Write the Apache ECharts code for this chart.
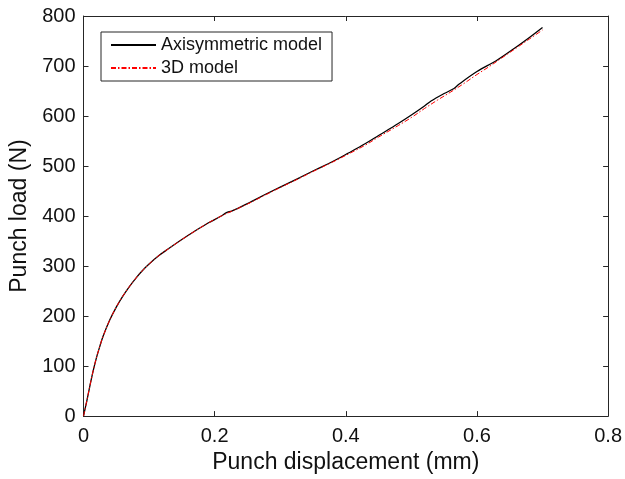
<!DOCTYPE html>
<html>
<head>
    <meta charset="utf-8">
    <title>Punch load</title>
    <script src="https://cdn.jsdelivr.net/npm/echarts@6/dist/echarts.min.js"></script>
    <style>
        body { margin: 0; background: #fff; }
        #main { width: 625px; height: 479px; }
    </style>
</head>
<body>
    <div id="main"></div>
    <script type="text/javascript">
        // displacement (mm) / load (N)
        var axiDisp = [0, 0.005, 0.010, 0.015, 0.020, 0.025, 0.030, 0.040, 0.050, 0.060, 0.070, 0.080, 0.090, 0.100, 0.115, 0.130, 0.150, 0.170, 0.190, 0.210, 0.218, 0.226, 0.250, 0.280, 0.300, 0.330, 0.353, 0.380, 0.404, 0.430, 0.450, 0.480, 0.500, 0.520, 0.530, 0.550, 0.565, 0.573, 0.600, 0.631, 0.660, 0.680, 0.700];
        var axiLoad = [0, 30, 62, 92, 118, 140, 160, 192, 218, 240, 259, 276, 291, 304, 321, 335, 353, 370, 386, 400, 407, 410, 425, 445, 458, 477, 492, 509, 526, 545, 561, 585, 602, 620, 630, 645, 655, 664, 689, 712, 738, 757, 777];

        var d3Disp = [0, 0.005, 0.010, 0.015, 0.020, 0.025, 0.030, 0.040, 0.050, 0.060, 0.070, 0.080, 0.090, 0.100, 0.115, 0.130, 0.150, 0.170, 0.190, 0.210, 0.230, 0.250, 0.280, 0.300, 0.330, 0.353, 0.380, 0.404, 0.430, 0.450, 0.480, 0.500, 0.520, 0.540, 0.560, 0.580, 0.600, 0.620, 0.640, 0.660, 0.680, 0.700];
        var d3Load = [0, 30, 62, 92, 118, 140, 160, 192, 218, 240, 259, 276, 291, 304, 321, 335, 353, 370, 386, 400, 412, 424, 444, 457, 476, 491, 508, 524, 542, 558, 581, 597, 615, 632, 648, 665, 683, 700, 718, 736, 754, 772];

        var xTicks = [0, 0.2, 0.4, 0.6, 0.8];
        var yTicks = [0, 100, 200, 300, 400, 500, 600, 700, 800];

        function pairs(xs, ys) {
            var out = [];
            for (var i = 0; i < xs.length; i++) out.push([xs[i], ys[i]]);
            return out;
        }

        var axisCol = '#262626';
        var font = 'Liberation Sans, Arial, sans-serif';

        var myChart = echarts.init(document.getElementById('main'));
        var baseX = {
            type: 'value', min: 0, max: 0.8, interval: 0.2,
            axisLine: { show: true, onZero: false, lineStyle: { color: axisCol, width: 1 } },
            axisTick: { show: true, inside: true, length: 5, lineStyle: { color: axisCol } },
            splitLine: { show: false }
        };
        var baseY = {
            type: 'value', min: 0, max: 800, interval: 100,
            axisLine: { show: true, onZero: false, lineStyle: { color: axisCol, width: 1 } },
            axisTick: { show: true, inside: true, length: 5, lineStyle: { color: axisCol } },
            splitLine: { show: false }
        };

        var option = {
            backgroundColor: '#fff',
            animation: false,
            grid: { left: 83.5, right: 14, top: 16, bottom: 62 },
            legend: {
                orient: 'vertical',
                left: 101, top: 32,
                padding: [3, 10, 3, 9],
                itemWidth: 45, itemHeight: 14, itemGap: 3,
                backgroundColor: '#fff',
                borderColor: axisCol, borderWidth: 1,
                itemStyle: { opacity: 0 },
                textStyle: { color: '#111', fontSize: 18, lineHeight: 20, fontFamily: font },
                data: ['Axisymmetric model', '3D model']
            },
            xAxis: [
                Object.assign({}, baseX, {
                    position: 'bottom',
                    name: 'Punch displacement (mm)',
                    nameLocation: 'middle', nameGap: 34,
                    nameTextStyle: { color: '#111', fontSize: 23, fontFamily: font },
                    axisLabel: {
                        color: '#111', fontSize: 20, fontFamily: font, margin: 10,
                        formatter: function (v) { return xTicks.indexOf(+v.toFixed(1)) >= 0 ? String(+v.toFixed(1)) : ''; }
                    }
                }),
                Object.assign({}, baseX, { position: 'top', axisLabel: { show: false } })
            ],
            yAxis: [
                Object.assign({}, baseY, {
                    position: 'left',
                    name: 'Punch load (N)',
                    nameLocation: 'middle', nameGap: 48,
                    nameTextStyle: { color: '#111', fontSize: 23, fontFamily: font },
                    axisLabel: {
                        color: '#111', fontSize: 20, fontFamily: font, margin: 8,
                        formatter: function (v) { return yTicks.indexOf(v) >= 0 ? String(v) : ''; }
                    }
                }),
                Object.assign({}, baseY, { position: 'right', axisLabel: { show: false } })
            ],
            series: [
                {
                    name: 'Axisymmetric model',
                    type: 'line',
                    data: pairs(axiDisp, axiLoad),
                    showSymbol: false, symbol: 'none',
                    smooth: 0.35,
                    color: '#000',
                    lineStyle: { color: '#000', width: 1.3 },
                    z: 2
                },
                {
                    name: '3D model',
                    type: 'line',
                    data: pairs(d3Disp, d3Load),
                    showSymbol: false, symbol: 'none',
                    smooth: 0.35,
                    color: '#ff0000',
                    lineStyle: { color: '#ff0000', width: 1, type: [5, 2, 1.5, 2] },
                    z: 3
                }
            ]
        };
        myChart.setOption(option);
    </script>
</body>
</html>
